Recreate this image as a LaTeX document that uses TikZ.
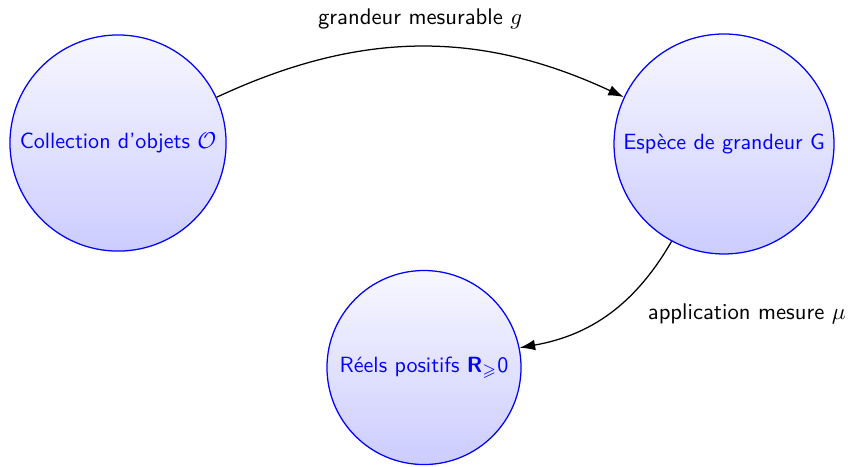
\documentclass[tikz,border=0pt]{standalone}
\usepackage{amsmath,amssymb}
\usetikzlibrary{arrows.meta,positioning}
\tikzset{ens/.style={circle,draw=blue,semithick,top color=blue!3,bottom color=blue!20,
  text=blue,font=\sffamily\fontsize{10.5}{12}\selectfont,inner sep=0pt},
  fleche/.style={-{Latex[length=2.6mm,width=1.8mm]},semithick},
  lab/.style={font=\sffamily\fontsize{10.8}{12}\selectfont,text=black}}
\begin{document}
\begin{tikzpicture}
\useasboundingbox (0,0) rectangle (14.204,7.806);
\node[ens,minimum size=3.62cm] (objets) at (1.977,5.41) {Collection d'objets $\mathcal{O}$};
\node[ens,minimum size=3.685cm] (espece) at (12.127,5.394) {Espèce de grandeur G};
\node[ens,minimum size=3.25cm] (reels) at (7.102,1.65) {Réels positifs \textbf{R}$_{\geqslant}$0};
\draw[fleche] (objets) to[bend left=25] node[lab,above=5pt] {grandeur mesurable $g$} (espece);
\draw[fleche] (espece) to[bend left=25] node[lab,right=15pt] {application mesure $\mu$} (reels);
\end{tikzpicture}
\end{document}
